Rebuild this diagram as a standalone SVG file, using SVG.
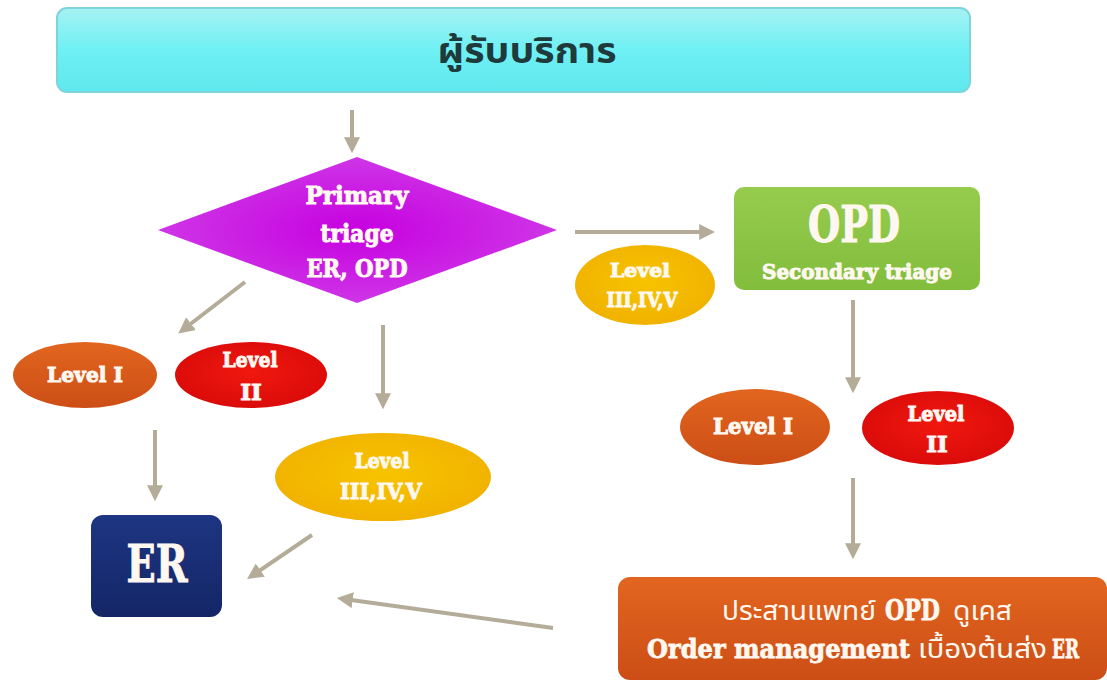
<svg xmlns="http://www.w3.org/2000/svg" width="1107" height="682" viewBox="0 0 1107 682">
<defs>
<linearGradient id="gCyan" x1="0" y1="0" x2="0" y2="1"><stop offset="0" stop-color="#a6f2f2"/><stop offset="0.5" stop-color="#6ff0f4"/><stop offset="1" stop-color="#5ee8ee"/></linearGradient>
<radialGradient id="gMag" cx="0.5" cy="0.5" r="0.6"><stop offset="0" stop-color="#c600e0"/><stop offset="1" stop-color="#d040e8"/></radialGradient>
<linearGradient id="gGreen" x1="0" y1="0" x2="0" y2="1"><stop offset="0" stop-color="#96cc4e"/><stop offset="1" stop-color="#82bd3c"/></linearGradient>
<linearGradient id="gOrange" x1="0" y1="0" x2="0" y2="1"><stop offset="0" stop-color="#e2651f"/><stop offset="1" stop-color="#cc4e16"/></linearGradient>
<radialGradient id="gRed" cx="0.5" cy="0.45" r="0.6"><stop offset="0" stop-color="#f0180e"/><stop offset="1" stop-color="#d80a0a"/></radialGradient>
<radialGradient id="gYellow" cx="0.5" cy="0.45" r="0.6"><stop offset="0" stop-color="#f7c400"/><stop offset="1" stop-color="#f0b000"/></radialGradient>
<linearGradient id="gNavy" x1="0" y1="0" x2="0" y2="1"><stop offset="0" stop-color="#1d3582"/><stop offset="1" stop-color="#142666"/></linearGradient>
<marker id="ah" markerWidth="4" markerHeight="4" refX="2.2" refY="2" orient="auto" markerUnits="strokeWidth"><path d="M0,0 L4,2 L0,4 Z" fill="#b4ac98"/></marker>
</defs>
<style>
.slab{font-family:"DejaVu Serif","Liberation Serif",serif;font-weight:bold;fill:#fff8f0;stroke:#fff8f0;stroke-width:1;text-anchor:middle}
.slabs{font-family:"DejaVu Serif","Liberation Serif",serif;font-weight:bold;fill:#fff8f0;stroke:#fff8f0;stroke-width:0.8}
.thai{font-family:"Noto Sans Thai","Noto Sans","DejaVu Sans",sans-serif;font-weight:bold;text-anchor:middle}
.thn{font-family:"Noto Sans Thai","Noto Sans","DejaVu Sans",sans-serif;font-weight:normal;fill:#fff8f0}
.conn line{stroke:#b4ac98;stroke-width:4;marker-end:url(#ah)}
</style>
<rect width="1107" height="682" fill="#ffffff"/>
<g id="n-client"><rect x="57" y="8" width="913" height="84" rx="10" fill="url(#gCyan)" stroke="#7fd4dc" stroke-width="2"/><text class="thai" x="527" y="63" font-size="36" fill="#1e3a3a" textLength="179" lengthAdjust="spacingAndGlyphs">ผู้รับบริการ</text></g>
<g id="n-primary"><polygon points="158,230 357,157 557,230 357,303" fill="url(#gMag)"/><text class="slab" x="357" y="204" font-size="24" textLength="103" lengthAdjust="spacingAndGlyphs">Primary</text><text class="slab" x="357" y="242" font-size="24" textLength="73" lengthAdjust="spacingAndGlyphs">triage</text><text class="slab" x="357" y="277" font-size="24" textLength="101" lengthAdjust="spacingAndGlyphs">ER, OPD</text></g>
<g id="n-opd"><rect x="734" y="187" width="246" height="103" rx="10" fill="url(#gGreen)"/><text class="slab" x="854" y="242" font-size="50" textLength="92" lengthAdjust="spacingAndGlyphs">OPD</text><text class="slab" x="857" y="279" font-size="21" textLength="190" lengthAdjust="spacingAndGlyphs">Secondary triage</text></g>
<g id="n-l345-r"><ellipse cx="645" cy="285" rx="70" ry="40" fill="url(#gYellow)"/><text class="slab" x="640" y="277" font-size="18" textLength="60" lengthAdjust="spacingAndGlyphs">Level</text><text class="slab" x="642" y="307" font-size="21" textLength="71" lengthAdjust="spacingAndGlyphs">III,IV,V</text></g>
<g id="n-l1-left"><ellipse cx="85" cy="375" rx="72" ry="33" fill="url(#gOrange)"/><text class="slab" x="85" y="382" font-size="21" textLength="76" lengthAdjust="spacingAndGlyphs">Level I</text></g>
<g id="n-l2-left"><ellipse cx="251" cy="375" rx="76" ry="33" fill="url(#gRed)"/><text class="slab" x="250" y="367" font-size="21" textLength="55" lengthAdjust="spacingAndGlyphs">Level</text><text class="slab" x="251" y="400" font-size="23">II</text></g>
<g id="n-l345-mid"><ellipse cx="383" cy="477" rx="108" ry="44" fill="url(#gYellow)"/><text class="slab" x="382" y="468" font-size="21" textLength="55" lengthAdjust="spacingAndGlyphs">Level</text><text class="slab" x="381" y="499" font-size="23" textLength="82" lengthAdjust="spacingAndGlyphs">III,IV,V</text></g>
<g id="n-er"><rect x="91" y="515" width="131" height="102" rx="12" fill="url(#gNavy)"/><text class="slab" x="157" y="582" font-size="53" textLength="61" lengthAdjust="spacingAndGlyphs">ER</text></g>
<g id="n-l1-right"><ellipse cx="755" cy="427" rx="75" ry="38" fill="url(#gOrange)"/><text class="slab" x="753" y="434" font-size="22" textLength="80" lengthAdjust="spacingAndGlyphs">Level I</text></g>
<g id="n-l2-right"><ellipse cx="938" cy="428" rx="76" ry="37" fill="url(#gRed)"/><text class="slab" x="936" y="421" font-size="21" textLength="57" lengthAdjust="spacingAndGlyphs">Level</text><text class="slab" x="937" y="452" font-size="23">II</text></g>
<g id="n-coord"><rect x="618" y="577" width="489" height="103" rx="12" fill="url(#gOrange)"/>
<text class="thn" x="722" y="620" font-size="26" textLength="154" lengthAdjust="spacingAndGlyphs">ประสานแพทย์</text>
<text class="slabs" x="885" y="620" font-size="28" textLength="55" lengthAdjust="spacingAndGlyphs">OPD</text>
<text class="thn" x="953" y="620" font-size="26" textLength="59" lengthAdjust="spacingAndGlyphs">ดูเคส</text>
<text class="slabs" x="647" y="658" font-size="26" textLength="263" lengthAdjust="spacingAndGlyphs">Order management</text>
<text class="thn" x="918" y="658" font-size="26" textLength="129" lengthAdjust="spacingAndGlyphs">เบื้องต้นส่ง</text>
<text class="slabs" x="1052" y="658" font-size="26" textLength="27" lengthAdjust="spacingAndGlyphs">ER</text></g>
<g id="connectors" class="conn">
<line x1="352" y1="110" x2="352" y2="146"/>
<line x1="575" y1="232" x2="708" y2="232"/>
<line x1="245" y1="282" x2="184" y2="329"/>
<line x1="383" y1="325" x2="383" y2="402"/>
<line x1="155" y1="430" x2="155" y2="494"/>
<line x1="312" y1="535" x2="253" y2="575"/>
<line x1="853" y1="300" x2="853" y2="386"/>
<line x1="853" y1="478" x2="853" y2="552"/>
<line x1="553" y1="628" x2="344" y2="599"/>
</g>
</svg>
